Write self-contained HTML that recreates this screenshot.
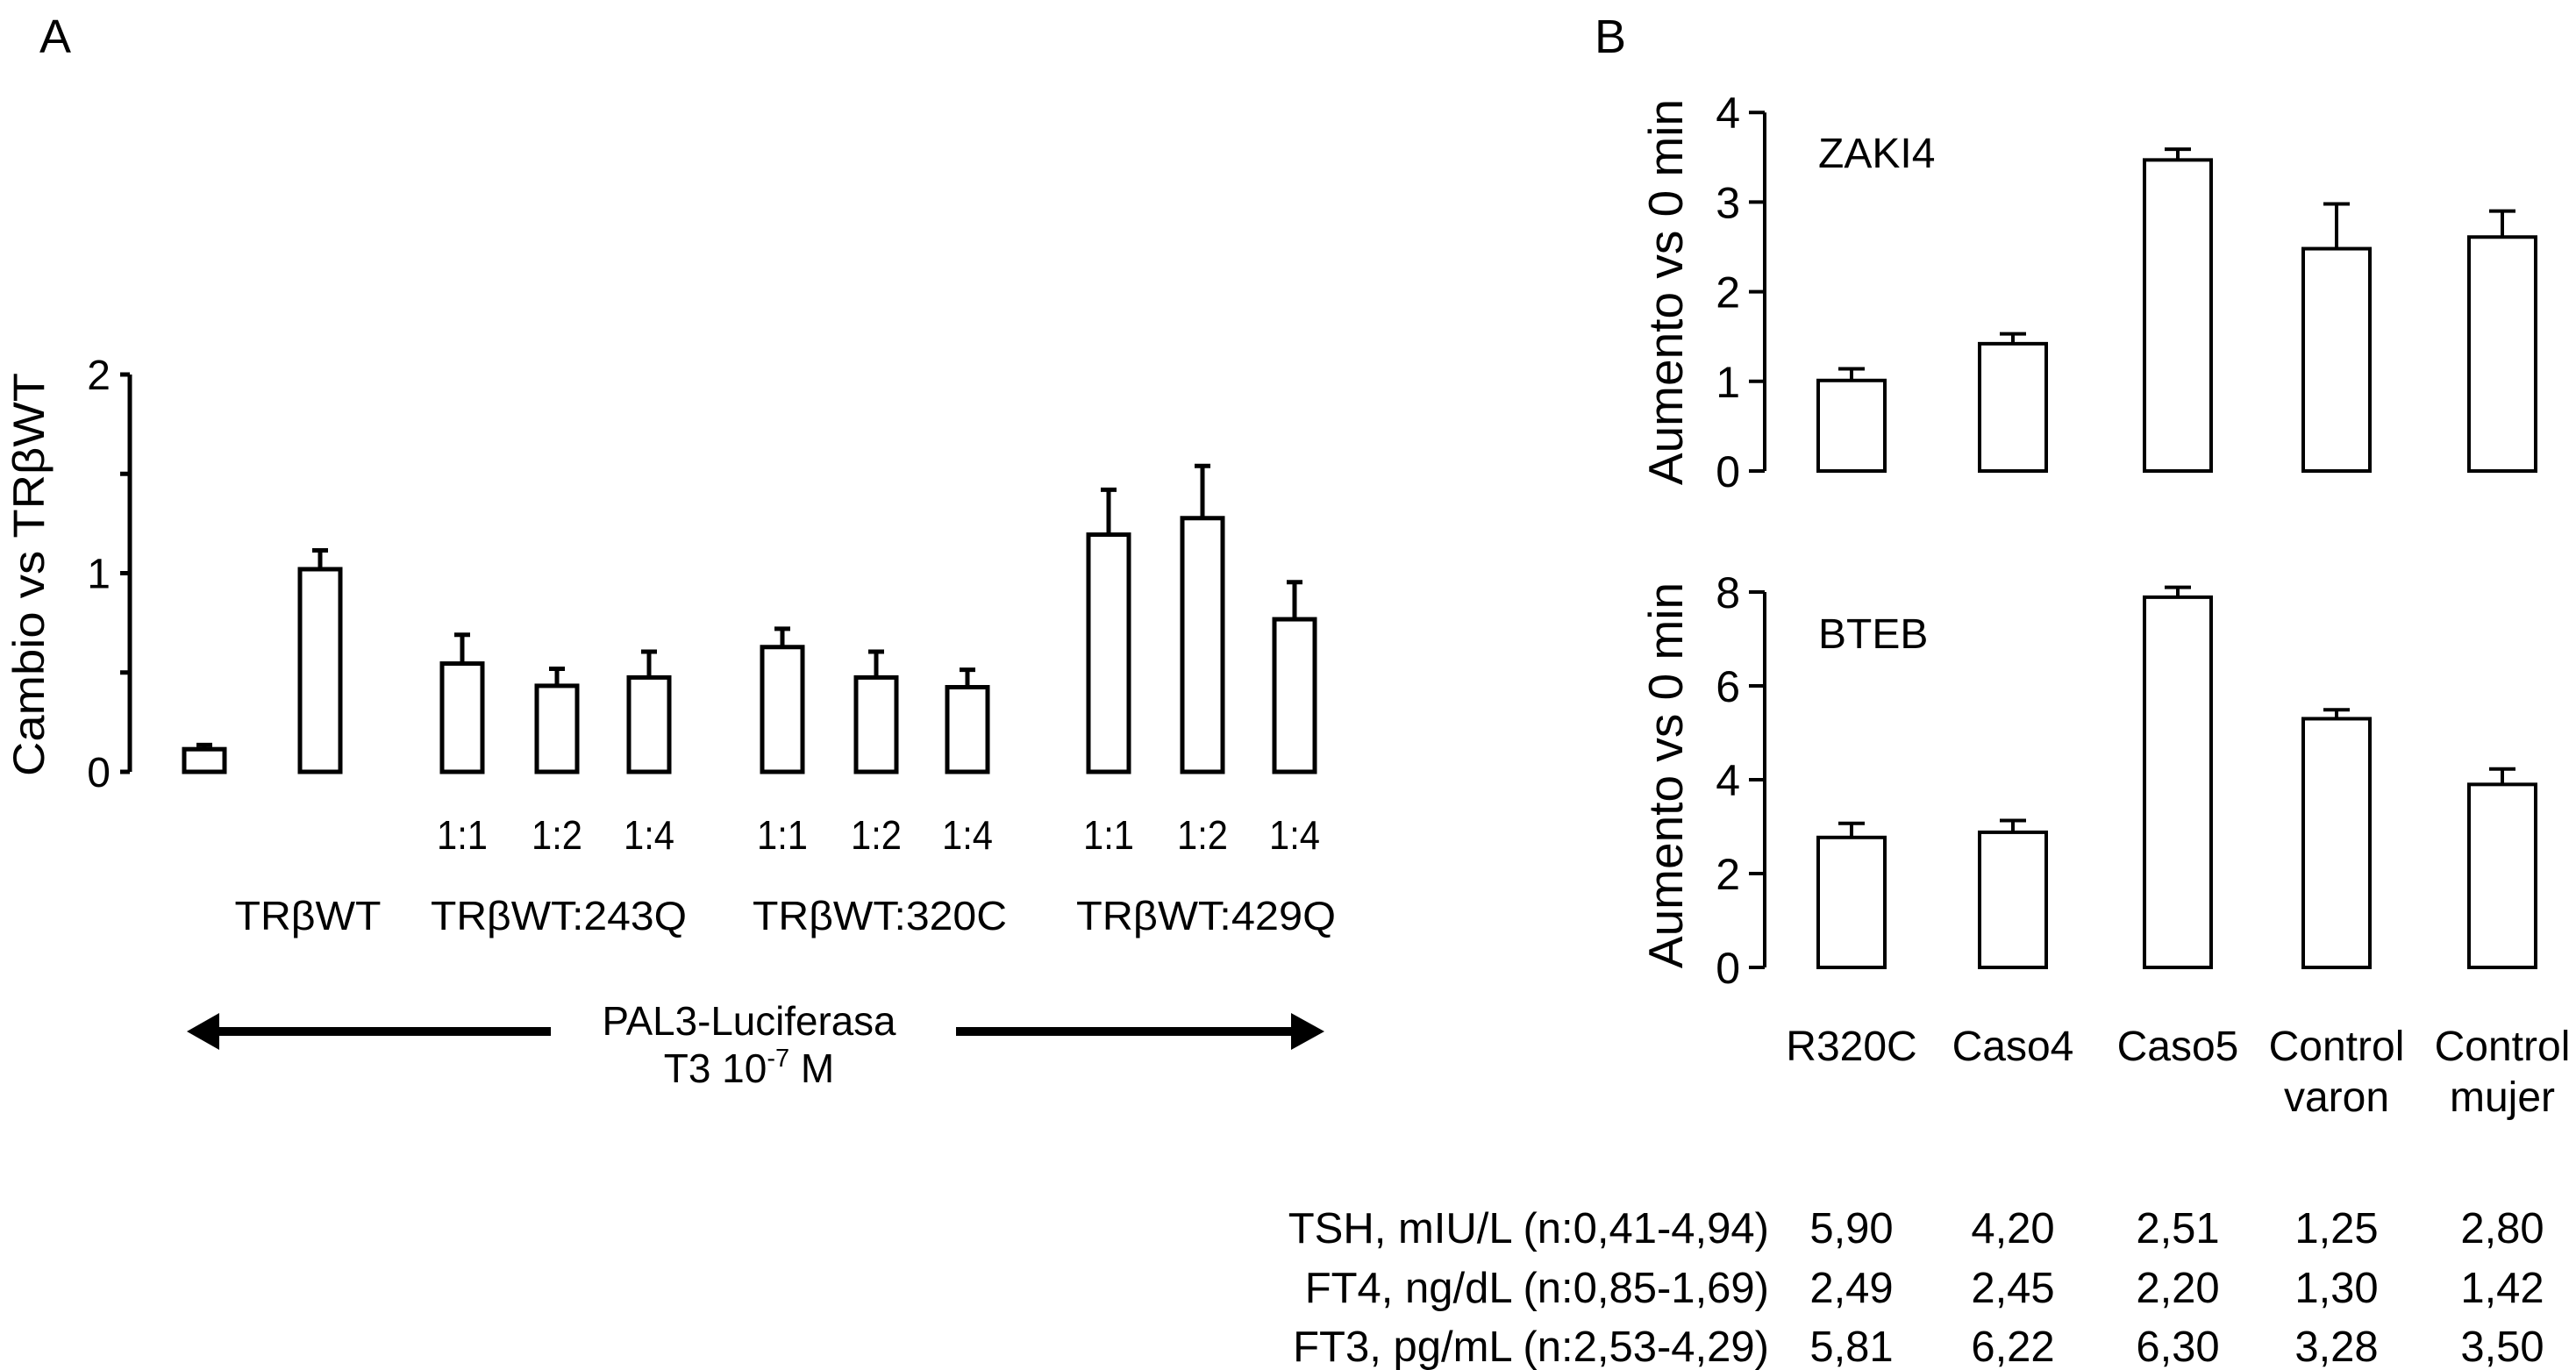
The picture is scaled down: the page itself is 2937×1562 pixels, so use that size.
<!DOCTYPE html>
<html><head><meta charset="utf-8"><style>
html,body{margin:0;padding:0;background:#fff}
svg{display:block}
text{font-family:"Liberation Sans",sans-serif;fill:#000}
</style></head><body>
<svg id="fig" width="2937" height="1562" viewBox="0 0 2937 1562" xmlns="http://www.w3.org/2000/svg">
<text x="45" y="60" font-size="54">A</text>
<text x="1818" y="60" font-size="54">B</text>
<text transform="translate(50,655) rotate(-90)" text-anchor="middle" font-size="50" textLength="460" lengthAdjust="spacingAndGlyphs">Cambio vs TRβWT</text>
<text transform="translate(1918,333) rotate(-90)" text-anchor="middle" font-size="55">Aumento vs 0 min</text>
<text transform="translate(1918,884) rotate(-90)" text-anchor="middle" font-size="55">Aumento vs 0 min</text>
<text x="2073" y="191" font-size="48">ZAKI4</text>
<text x="2073" y="739" font-size="48">BTEB</text>
<g id="a"></g><g id="b1"></g><g id="b2"></g>
<text x="351" y="1060" text-anchor="middle" font-size="46" textLength="167" lengthAdjust="spacingAndGlyphs">TRβWT</text>
<text x="637" y="1060" text-anchor="middle" font-size="46" textLength="292" lengthAdjust="spacingAndGlyphs">TRβWT:243Q</text>
<text x="1003" y="1060" text-anchor="middle" font-size="46" textLength="290" lengthAdjust="spacingAndGlyphs">TRβWT:320C</text>
<text x="1375" y="1060" text-anchor="middle" font-size="46" textLength="296" lengthAdjust="spacingAndGlyphs">TRβWT:429Q</text>
<g><line x1="245" y1="1176" x2="628" y2="1176" stroke="#000" stroke-width="10"/><polygon points="213,1176 250,1155 250,1197" fill="#000"/></g>
<g><line x1="1090" y1="1176" x2="1475" y2="1176" stroke="#000" stroke-width="10"/><polygon points="1510,1176 1472,1155 1472,1197" fill="#000"/></g>
<text x="854" y="1180" text-anchor="middle" font-size="46" textLength="335" lengthAdjust="spacingAndGlyphs">PAL3-Luciferasa</text>
<text x="854" y="1234" text-anchor="middle" font-size="46">T3 10<tspan font-size="29" dy="-18">-7</tspan><tspan dy="18"> M</tspan></text>
<g id="tbl"></g>
</svg>
<script>
const aCats=["","TRβWT","1:1","1:2","1:4","1:1","1:2","1:4","1:1","1:2","1:4"];
const aVals=[0.114,1.02,0.545,0.433,0.475,0.628,0.475,0.426,1.194,1.277,0.768];
const aErr=[0.135,1.115,0.69,0.519,0.605,0.72,0.605,0.514,1.42,1.54,0.955];
const aTicks=[0,1,2];
const bCats=["R320C","Caso4","Caso5","Control","Control"];
const bCats2=["","","","varon","mujer"];
const zVals=[1.01,1.42,3.47,2.48,2.61];
const zErr=[1.14,1.53,3.59,2.98,2.90];
const zTicks=[0,1,2,3,4];
const tVals=[2.77,2.88,7.89,5.30,3.90];
const tErr=[3.07,3.13,8.10,5.49,4.23];
const tTicks=[0,2,4,6,8];
const rowLabels=["TSH, mIU/L (n:0,41-4,94)","FT4, ng/dL (n:0,85-1,69)","FT3, pg/mL (n:2,53-4,29)"];
const tsh=["5,90","4,20","2,51","1,25","2,80"];
const ft4=["2,49","2,45","2,20","1,30","1,42"];
const ft3=["5,81","6,22","6,30","3,28","3,50"];

const NS="http://www.w3.org/2000/svg";
function mk(p,t,at){const e=document.createElementNS(NS,t);for(const k in at)e.setAttribute(k,at[k]);p.appendChild(e);return e;}

// Panel A
const aX=[233,365,527,635,740,892,999,1103,1264,1371,1476];
const aY=v=>880-v*226.5;
const ga=document.getElementById('a');
let ax=mk(ga,'path',{d:`M148 ${aY(2)} V${aY(0)}`,stroke:'#000','stroke-width':5,fill:'none'});


[0,0.5,1,1.5,2].forEach(v=>{let t=mk(ga,'line',{x1:137,x2:148,y1:aY(v),y2:aY(v),stroke:'#000','stroke-width':5});

});
aTicks.forEach(v=>{let t=mk(ga,'text',{x:126,y:aY(v)+17,'text-anchor':'end','font-size':48});t.textContent=v;

});
aVals.forEach((v,i)=>{const cx=aX[i],w=46;
let e=mk(ga,'path',{d:`M${cx} ${aY(v)} V${aY(aErr[i])} M${cx-9} ${aY(aErr[i])} H${cx+9}`,stroke:'#000','stroke-width':5,fill:'none'});


let r=mk(ga,'rect',{x:cx-w/2,y:aY(v),width:w,height:aY(0)-aY(v),fill:'#fff',stroke:'#000','stroke-width':5});


if(i>=2){let t=mk(ga,'text',{x:cx,y:968,'text-anchor':'middle','font-size':46,textLength:58,lengthAdjust:'spacingAndGlyphs'});t.textContent=aCats[i];

}
});

// Panel B
const bX=[2111,2295,2483,2664,2853];
function panel(g,y0,unit,vals,errs,ticks,name){
 const Y=v=>y0-v*unit;
 let ax=mk(g,'path',{d:`M2012 ${Y(ticks[ticks.length-1])} V${y0}`,stroke:'#000','stroke-width':4,fill:'none'});
 
 
 ticks.forEach(v=>{let t=mk(g,'line',{x1:1994,x2:2012,y1:Y(v),y2:Y(v),stroke:'#000','stroke-width':4});
 
 
 let l=mk(g,'text',{x:1984,y:Y(v)+18,'text-anchor':'end','font-size':50});l.textContent=v;
 
 });
 vals.forEach((v,i)=>{const cx=bX[i],w=76;
 let e=mk(g,'path',{d:`M${cx} ${Y(v)} V${Y(errs[i])} M${cx-15} ${Y(errs[i])} H${cx+15}`,stroke:'#000','stroke-width':4,fill:'none'});
 
 
 let r=mk(g,'rect',{x:cx-w/2,y:Y(v),width:w,height:y0-Y(v),fill:'#fff',stroke:'#000','stroke-width':4});
 
 });
}
panel(document.getElementById('b1'),537,102.2,zVals,zErr,zTicks,'zaki4');
panel(document.getElementById('b2'),1103,53.5,tVals,tErr,tTicks,'bteb');

const gt=document.getElementById('tbl');
bX.forEach((cx,i)=>{let t=mk(gt,'text',{x:cx,y:1209,'text-anchor':'middle','font-size':48});t.textContent=bCats[i];


if(bCats2[i]){let t2=mk(gt,'text',{x:cx,y:1267,'text-anchor':'middle','font-size':48});t2.textContent=bCats2[i];

}});
const rows=[tsh,ft4,ft3],rY=[1417,1485,1552];
rows.forEach((r,j)=>{let l=mk(gt,'text',{x:2017,y:rY[j],'text-anchor':'end','font-size':49});l.textContent=rowLabels[j];


r.forEach((v,i)=>{let t=mk(gt,'text',{x:bX[i],y:rY[j],'text-anchor':'middle','font-size':49});t.textContent=v;

});});
</script>
</body></html>
